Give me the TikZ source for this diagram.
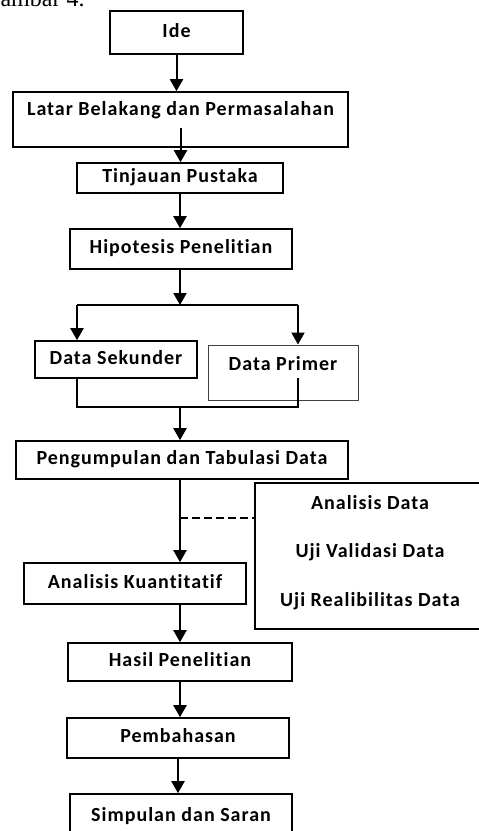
\documentclass[tikz,border=0pt]{standalone}
\usepackage{fontspec}
\setmainfont{Carlito}[LetterSpace=5,Ligatures=NoCommon]
\newfontfamily\judulfont{Liberation Serif}
\usetikzlibrary{arrows.meta}

\begin{document}
\begin{tikzpicture}[x=1pt,y=-1pt]
                \useasboundingbox (0,0) rectangle (479,831);
                \node[anchor=base west, inner sep=0, font=\judulfont\fontsize{24}{24}\selectfont] (judul) at (-17,6) {Gambar 4.};

                \begin{scope}[every node/.style={draw,line width=1.6pt,inner sep=0,text height=13,text depth=4,
                              font=\bfseries\fontsize{20}{22}\selectfont}]
                    \node[minimum width=133, minimum height=43] (ide) at (176.5,32.5) {Ide};
                    \node[minimum width=335, text height=23, text depth=32] (latar) at (180.5,119.5) {Latar Belakang dan Permasalahan};
                    \node[minimum width=206, minimum height=30] (tinjauan) at (180,178) {Tinjauan Pustaka};
                    \node[minimum width=222, minimum height=40] (hipotesis) at (181,249) {Hipotesis Penelitian};
                    \node[minimum width=162, minimum height=37] (sekunder) at (116,359.5) {Data Sekunder};
                    \node[minimum width=150, text height=25, text depth=30, line width=1pt, draw=black!75] (primer) at (283,372.5) {Data Primer};
                    \node[minimum width=332, minimum height=38] (pengumpulan) at (182,460) {Pengumpulan dan Tabulasi Data};
                    \node[minimum width=264, minimum height=144, draw=none] (uji) at (388,556) {};
                    \node[minimum width=222, minimum height=41] (kuantitatif) at (135,583.5) {Analisis Kuantitatif};
                    \node[minimum width=224, minimum height=38] (hasil) at (180,662) {Hasil Penelitian};
                    \node[minimum width=222, minimum height=40] (bahas) at (178,738) {Pembahasan};
                    \node[minimum width=222, minimum height=46] (simpulan) at (181,817) {Simpulan dan Saran};
                \end{scope}

                % kotak analisis, sisi kanannya di luar halaman
                \draw[line width=1.6pt] (uji.north east) -- (uji.north west) -- (uji.south west) -- (uji.south east);
                \begin{scope}[every node/.style={inner sep=0,text height=13,text depth=4,
                              font=\bfseries\fontsize{20}{22}\selectfont}]
                    \node (analisis) at (370,504.5) {Analisis Data};
                    \node (validasi) at (370,552.5) {Uji Validasi Data};
                    \node (reliabel) at (370,601.5) {Uji Realibilitas Data};
                \end{scope}

                \coordinate (pisah) at (180,305);
                \coordinate (kiri) at (77,305);
                \coordinate (kanan) at (298,305);
                \coordinate (ujung) at (298,378);
                \coordinate (gabung) at (180,407);
                \coordinate (cabang) at (180,518);

                \begin{scope}[every edge/.style={draw,line width=2pt,-{Triangle[width=13pt,length=12pt]}}]
                    \path (ide.south) edge (ide.south |- latar.north);
                    \path ([yshift=-13pt]latar.base) edge (latar.base |- tinjauan.north);
                    \path (tinjauan.south) edge (tinjauan.south |- hipotesis.north);
                    \path (pisah |- hipotesis.south) edge (pisah);
                    \path (kiri) edge[-] (kanan);
                    \path (kiri) edge (kiri |- sekunder.north);
                    \path (kanan) edge (kanan |- primer.north);
                    \path (gabung) edge (gabung |- pengumpulan.north);
                    \path (gabung |- pengumpulan.south) edge (gabung |- kuantitatif.north);
                    \path (gabung |- kuantitatif.south) edge (gabung |- hasil.north);
                    \path (hasil.south) edge (hasil.south |- bahas.north);
                    \path (bahas.south) edge (bahas.south |- simpulan.north);
                \end{scope}

                \draw[line width=1.3pt] (kiri |- sekunder.south) -- (kiri |- gabung) -- (kanan |- gabung) -- (ujung);
                \draw[line width=1.6pt, dash pattern=on 8pt off 4pt] (cabang) -- (cabang -| uji.west);
            \end{tikzpicture}
\end{document}
